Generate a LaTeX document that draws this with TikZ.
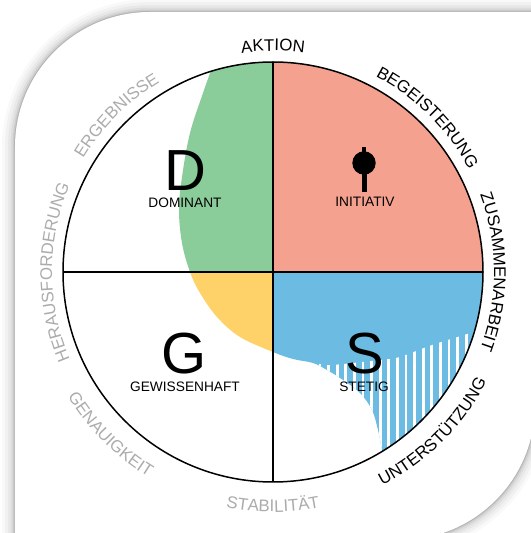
\documentclass[tikz,border=0pt]{standalone}
\usepackage{fontspec}
\setmainfont{Liberation Sans}
\usepackage{tikz}
\usetikzlibrary{decorations.text}

\definecolor{domGreen}{RGB}{139,204,155}
\definecolor{iniSalmon}{RGB}{245,161,144}
\definecolor{gewYellow}{RGB}{254,210,104}
\definecolor{steBlue}{RGB}{107,187,226}
\definecolor{ringGrey}{RGB}{172,172,172}

\newcommand{\ringfont}{\fontsize{9.6}{11}\selectfont}

\begin{document}
\begin{tikzpicture}[x=0.02cm,y=0.02cm]

\tikzset{bigLetter/.style={font=\fontsize{33}{36}\selectfont, inner sep=0pt},
typeName/.style={font=\fontsize{7.8}{9}\selectfont, inner sep=0pt},
%words round the ring, outside: upper half clockwise, lower half anticlockwise
upperText/.style 2 args={decorate, decoration={text along path, text align=center,
   text color=#2, text={|\ringfont|#1}}},
lowerText/.style 2 args={decorate, decoration={text along path, text align=center,
   text color=#2, text={|\ringfont|#1}}}}

\useasboundingbox (-273,-261) rectangle (257,272);

%card with soft shadow
\foreach \w/\o in {26/0.025, 20/0.03, 14/0.04, 9/0.05, 5/0.07, 2/0.12}
  \draw[black, opacity=\o, line width=\w*0.567pt] (-258,-268) -- (-258,125)
     arc[start angle=180, end angle=90, radius=135] -- (262,260) -- (262,-133)
     arc[start angle=0, end angle=-90, radius=135] -- cycle;
\fill[white] (-258,-268) -- (-258,125)
     arc[start angle=180, end angle=90, radius=135] -- (262,260) -- (262,-133)
     arc[start angle=0, end angle=-90, radius=135] -- cycle;

\begin{scope}
  \clip (0,0) circle[radius=210];
  \clip plot[smooth, tension=0.6] coordinates {(-55,225) (-63,199) (-70,179) (-83,139)
     (-91,95) (-94,62) (-91,29) (-83,0) (-73,-21) (-56,-45) (-33,-65) (0,-80) (20,-87)
     (40,-91) (54,-98) (70,-108) (87,-121) (99,-138) (105,-158) (109,-178) (114,-205)}
     -- (300,-300) -- (300,300) -- (-55,300) -- cycle;
  \fill[domGreen] (-220,0) rectangle (0,220);
  \fill[iniSalmon] (0,0) rectangle (220,220);
  \fill[gewYellow] (-220,0) rectangle (0,-220);
  \fill[steBlue] (0,0) rectangle (220,-220);
  %stripes
  \begin{scope}
    \clip plot[smooth] coordinates {(25,-90) (47,-92) (59,-93) (107,-88) (127,-85)
       (159,-73) (197,-61) (230,-48)} -- (230,-230) -- (25,-230) -- cycle;
    \foreach \x in {47,55.6,...,215}
      \draw[white, line width=1.7pt] (\x,-40) -- (\x,-215);
  \end{scope}
\end{scope}

\draw[line width=0.6pt] (0,210) -- (0,-210);
\draw[line width=0.6pt] (-210,0) -- (210,0);
\draw[line width=0.85pt] (0,0) circle[radius=210];

\path[upperText={AKTION}{black}] (125:221) arc[start angle=125, end angle=55, radius=221];
\path[upperText={BEGEISTERUNG}{black}] (80:221) arc[start angle=80, end angle=10, radius=221];
\path[upperText={ZUSAMMENARBEIT}{black}] (35:221) arc[start angle=35, end angle=-35, radius=221];
\path[upperText={ERGEBNISSE}{ringGrey}] (170:221) arc[start angle=170, end angle=100, radius=221];
\path[upperText={HERAUSFORDERUNG}{ringGrey}] (215:221) arc[start angle=215, end angle=145, radius=221];
\path[lowerText={UNTERSTÜTZUNG}{black}] (-80:240) arc[start angle=-80, end angle=-10, radius=240];
\path[lowerText={STABILITÄT}{ringGrey}] (-125:240) arc[start angle=-125, end angle=-55, radius=240];
\path[lowerText={GENAUIGKEIT}{ringGrey}] (-170:240) arc[start angle=-170, end angle=-100, radius=240];

\node[bigLetter] (dLetter) at (-88,101) {D};
\node[typeName] (dName) at (-88,69) {DOMINANT};
%the i sign
\fill (91,109) circle[radius=11.7];
\fill (88.5,80) rectangle (93.5,100);
\fill (89,118) rectangle (93,125);
\node[typeName] (iName) at (92,70) {INITIATIV};
\node[bigLetter] (gLetter) at (-89,-82) {G};
\node[typeName] (gName) at (-88,-115) {GEWISSENHAFT};
\node[bigLetter] (sLetter) at (92,-82) {S};
\node[typeName] (sName) at (91,-115) {STETIG};

\end{tikzpicture}
\end{document}
